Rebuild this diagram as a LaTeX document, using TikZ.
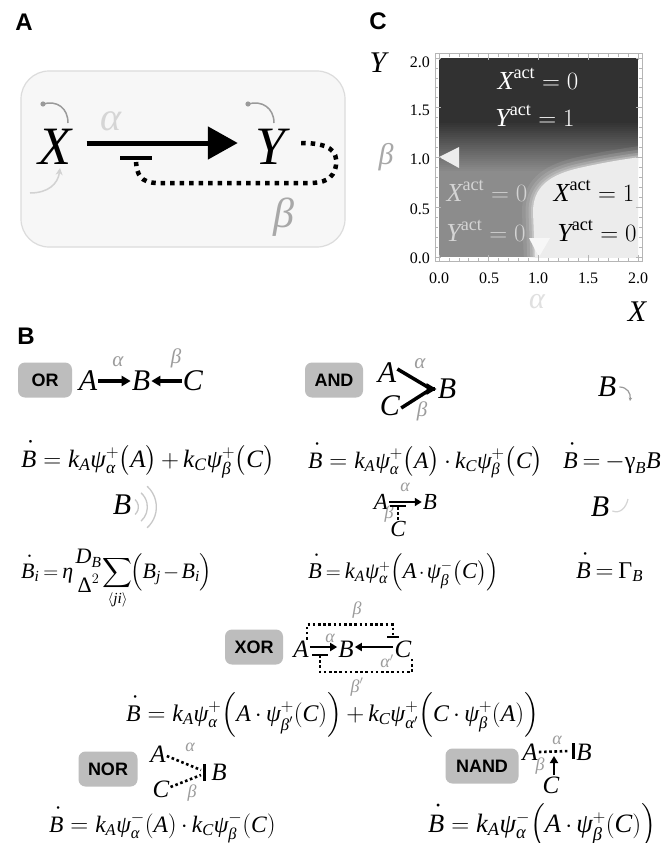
\documentclass[tikz,border=0pt]{standalone}
\usepackage{fontspec}
\setmainfont{Liberation Serif}
\newfontfamily\labfont{Liberation Sans}
\usepackage{amsmath}
\usetikzlibrary{arrows.meta,calc}
\definecolor{bgA}{HTML}{F7F7F7}
\definecolor{frameA}{HTML}{DCDCDC}
\definecolor{alA}{HTML}{D5D5D5}
\definecolor{beA}{HTML}{A8A8A8}
\definecolor{loopg}{HTML}{9A9A9A}
\definecolor{lightarr}{HTML}{D2D2D2}
\definecolor{greyl}{HTML}{9C9C9C}
\definecolor{boxg}{HTML}{BDBDBD}
\definecolor{darkg}{HTML}{313131}
\definecolor{midg}{HTML}{8C8C8C}
\definecolor{lightc}{HTML}{ECECEC}
\definecolor{wavec}{HTML}{C8C8C8}
\definecolor{smilec}{HTML}{D5D5D5}
\definecolor{tickc}{HTML}{B5B5B5}
\definecolor{lowlab}{HTML}{D4D4D4}
\newcommand\vi[1]{\text{\itshape #1}}
\newcommand\dotB{\text{\rlap{\kern0.3em\raisebox{0.86em}{\scalebox{0.45}{\textbullet}}}\itshape B}}
\newcommand\eqsp{\thickmuskip=5mu plus 2mu\medmuskip=3mu plus 1mu}
\newcommand\eqtight{\thickmuskip=3.5mu plus 1mu\medmuskip=2mu plus 1mu}
\newcommand\fs[1]{\fontsize{#1}{#1}\selectfont}
\tikzset{
  every node/.style={inner sep=1pt},
  panel/.style={font=\labfont\bfseries\fontsize{24}{24}\selectfont},
  bigv/.style={font=\itshape\fontsize{54}{54}\selectfont},
  eqn/.style={anchor=base west, font=\fs{25}\eqsp},
  gate/.style={fill=boxg, rounded corners=7pt, minimum height=35pt, font=\labfont\bfseries\fontsize{18}{18}\selectfont},
  dl/.style={font=\itshape\fontsize{30}{30}\selectfont},
  xl/.style={font=\itshape\fontsize{25}{25}\selectfont},
  sl/.style={font=\itshape\fontsize{23}{23}\selectfont},
  gl/.style={text=greyl, font=\itshape\fontsize{21}{21}\selectfont},
  gls/.style={text=greyl, font=\itshape\fontsize{18}{18}\selectfont},
  garrow/.style={line width=3.2pt, -{Triangle[length=9pt,width=10pt]}},
  sarrow/.style={line width=2.6pt, -{Triangle[length=7pt,width=8pt]}},
  sdot/.style={line width=2.6pt, dash pattern=on 2.6pt off 2.6pt},
  bigdot/.style={line width=4.5pt, dash pattern=on 4.5pt off 5pt},
  pl/.style={font=\fontsize{26}{26}\selectfont},
  tk/.style={font=\fontsize{16}{16}\selectfont},
  axl/.style={font=\itshape\fontsize{30}{30}\selectfont},
  wave/.style={wavec, line width=1.3pt},
}
\begin{document}
\begin{tikzpicture}[x=1pt,y=-1pt]
\useasboundingbox (0,0) rectangle (669,843);
\fill[white] (0,0) rectangle (669,843);

% panel labels
\node[panel] (pA) at (24,22) {A};
\node[panel] (pC) at (378,21) {C};
\node[panel] (pB) at (26,336) {B};

% ---------------- Panel A
\draw[draw=frameA, fill=bgA, line width=1.2pt, rounded corners=28pt] (21,71) rectangle (345,247);
\node[bigv] (X) at (55,147) {X};
\node[bigv] (Y) at (271,147) {Y};
\node[font=\itshape\fontsize{40}{40}\selectfont, text=alA] (aA) at (111,121) {α};
\node[font=\itshape\fontsize{42}{42}\selectfont, text=beA] (bA) at (284,217) {β};
\draw[line width=5pt, -{Triangle[length=30pt,width=32pt]}, shorten <=14pt, shorten >=17pt] ([yshift=4pt]X.east) -- ([yshift=4pt]Y.west);
\coordinate (barA) at (136,158);
\draw[line width=4pt] ([xshift=-16pt]barA) -- ([xshift=16pt]barA);
\draw[bigdot] ([xshift=14pt,yshift=4pt]Y.east) .. controls (328,143) and (338,150) .. (336,165) .. controls (334,180) and (322,183) .. (310,183) -- (158,183) .. controls (140,183) and (137,174) .. ([yshift=-4pt]barA);
% self loops
\coordinate (xl0) at (43,104); \coordinate (xl1) at (68,123);
\coordinate (yl0) at (248,104); \coordinate (yl1) at (274,123);
\fill[loopg] (xl0) circle (2.6pt);
\fill[loopg] (yl0) circle (2.6pt);
\draw[loopg, line width=1.5pt] (xl0) .. controls (57,100) and (68,108) .. (xl1);
\draw[loopg, line width=1.5pt] (yl0) .. controls (262,100) and (274,108) .. (yl1);
\coordinate (ia0) at (30,193); \coordinate (ia1) at (60,168);
\draw[lightarr, line width=1.5pt, -{Stealth[length=7pt,width=7pt]}] (ia0) .. controls (48,193) and (58,184) .. (ia1);

% ---------------- Panel C
\begin{scope}
\clip (439,58) rectangle (638,257);
\fill[midg] (439,58) rectangle (638,257);
\fill[darkg] (439,58) rectangle (638,122);
\foreach \i in {0,...,25}{\pgfmathsetmacro\p{100-4*\i}\fill[darkg!\p!midg] (439,{121+2*\i}) rectangle (638,{123.5+2*\i});}
\foreach \w/\op in {22/0.1,15/0.15,9/0.2,4/0.3}{
  \draw[lightc, line width=\w pt, opacity=\op] (535,262) -- (533,212) .. controls (533,188) and (548,176) .. (575,169) .. controls (600,163) and (625,159) .. (648,156);}
\fill[lightc] (535,262) -- (533,212) .. controls (533,188) and (548,176) .. (575,169) .. controls (600,163) and (625,159) .. (648,156) -- (648,262) -- cycle;
\fill[white!93!black] (439,157) -- (459,147) -- (459,168) -- cycle;
\fill[white!97!black] (539,257) -- (529,238) -- (550,238) -- cycle;
\end{scope}
\draw[tickc, line width=1pt] (435,54) rectangle (642,261);
\foreach \k in {0,...,20}{
  \pgfmathsetmacro\tl{ifthenelse(mod(\k,5)==0,6,3)}
  \draw[tickc, line width=0.8pt] ({439+9.95*\k},54) -- ++(0,\tl);
  \draw[tickc, line width=0.8pt] ({439+9.95*\k},261) -- ++(0,-\tl);
  \draw[tickc, line width=0.8pt] (435,{257-9.95*\k}) -- ++(\tl,0);
  \draw[tickc, line width=0.8pt] (642,{257-9.95*\k}) -- ++(-\tl,0);
}
\node[tk, anchor=east] (ty0) at (431,62) {2.0};
\node[tk, anchor=east] (ty1) at (431,110) {1.5};
\node[tk, anchor=east] (ty2) at (431,159) {1.0};
\node[tk, anchor=east] (ty3) at (431,209) {0.5};
\node[tk, anchor=east] (ty4) at (431,258) {0.0};
\node[tk] (tx0) at (439,278) {0.0};
\node[tk] (tx1) at (489,278) {0.5};
\node[tk] (tx2) at (538,278) {1.0};
\node[tk] (tx3) at (588,278) {1.5};
\node[tk] (tx4) at (638,278) {2.0};
\node[pl, text=white] (c1) at (538,79) {$\vi{X}^{\text{act}} = 0$};
\node[pl, text=white] (c2) at (535,116) {$\vi{Y}^{\text{act}} = 1$};
\node[pl, text=lowlab] (c3) at (487,191) {$\vi{X}^{\text{act}} = 0$};
\node[pl, text=lowlab] (c4) at (486,231) {$\vi{Y}^{\text{act}} = 0$};
\node[pl] (c5) at (594,191) {$\vi{X}^{\text{act}} = 1$};
\node[pl] (c6) at (597,231) {$\vi{Y}^{\text{act}} = 0$};
\node[axl] (axY) at (378,63) {Y};
\node[axl, text=beA] (axb) at (386,157) {β};
\node[axl, text=white!88!black] (axa) at (537,302) {α};
\node[axl] (axX) at (637,312) {X};

% ---------------- Panel B
% OR
\node[gate, minimum width=54pt] (orbox) at (45,380) {OR};
\node[dl] (orA) at (88,381) {A};
\node[dl] (orB) at (141,381) {B};
\node[dl] (orC) at (193,381) {C};
\node[gl] (ora) at (118,362) {α};
\node[gl] (orb) at (176,358) {β};
\draw[garrow] (orA) -- (orB);
\draw[garrow] (orC) -- (orB);
\node[eqn] (eqOR) at (20,467) {$\dotB = \vi{k}_{\vi{A}}\vi{ψ}^{+}_{\vi{α}}\bigl(\vi{A}\bigr)+\vi{k}_{\vi{C}}\vi{ψ}^{+}_{\vi{β}}\bigl(\vi{C}\bigr)$};

% AND
\node[gate, minimum width=58pt] (andbox) at (334,380) {AND};
\node[dl] (andA) at (387,373) {A};
\node[dl] (andC) at (390,406) {C};
\node[dl] (andB) at (447,389) {B};
\coordinate (andV) at (431,389);
\draw[line width=3.5pt] ([yshift=4pt]andA.east) -- (andV) -- ([yshift=-2pt]andC.east);
\draw[line width=3.5pt, -{Triangle[length=10pt,width=11pt]}, shorten <=-4pt] (andV) -- (andB.west);
\node[gl] (anda) at (420,364) {α};
\node[gl] (andb) at (422,411) {β};
\node[eqn, font=\fs{23.5}\eqsp] (eqAND) at (307,468) {$\dotB = \vi{k}_{\vi{A}}\vi{ψ}^{+}_{\vi{α}}\bigl(\vi{A}\bigr)\cdot\vi{k}_{\vi{C}}\vi{ψ}^{+}_{\vi{β}}\bigl(\vi{C}\bigr)$};

% decay
\node[dl] (dB) at (607,387) {B};
\coordinate (dBe) at (630,401);
\draw[loopg, line width=1.2pt, -{Stealth[length=3.5pt,width=3.5pt]}] ([xshift=2pt]dB.east) .. controls (627,387) and (631,393) .. (dBe);
\node[eqn, font=\fs{24}\eqtight] (eqDec) at (562,468) {$\dotB = -\text{γ}_{\vi{B}}\vi{B}$};

% diffusion
\node[dl] (wB) at (122,505) {B};
\coordinate (wc) at ([xshift=-4pt,yshift=-2pt]wB.east);
\foreach \r in {10,19,28}{\draw[wave] ([shift={(-48:\r pt)}]wc) arc[start angle=-48,end angle=48,radius=\r pt];}
\node[eqn, font=\fs{22}\eqtight] (eqDiff) at (20,578) {$\displaystyle\dotB_{\vi{i}} = \vi{η}\mkern1mu\genfrac{}{}{0pt}{0}{\vi{D}_{\vi{B}}}{\text{Δ}^2}\mkern-3mu\sum_{\langle \vi{ji}\rangle}\mkern-2mu\Bigl(\vi{B}_{\vi{j}}-\vi{B}_{\vi{i}}\Bigr)$};

% AND-NOT
\node[sl] (anA) at (381,502) {A};
\node[sl] (anB) at (430,502) {B};
\node[sl] (anC) at (398,529) {C};
\node[gls] (ana) at (405,487) {α};
\node[gls] (anb) at (389,514) {β};
\draw[sarrow] (anA) -- (anB);
\coordinate (anBar) at (398,506);
\draw[line width=2.5pt] ([xshift=-8pt]anBar) -- ([xshift=8pt]anBar);
\draw[sdot] (anC.north) -- (anBar);
\node[eqn, font=\fs{22.5}\eqtight] (eqAN) at (307,578) {$\dotB = \vi{k}_{\vi{A}}\vi{ψ}^{+}_{\vi{α}}\Bigl(\vi{A}\cdot\vi{ψ}^{-}_{\vi{β}}\bigl(\vi{C}\bigr)\Bigr)$};

% production
\node[dl] (gB) at (600,507) {B};
\coordinate (gs1) at (628,499);
\draw[smilec, line width=1.2pt] ([xshift=2pt,yshift=-4pt]gB.east) .. controls (620,514) and (626,508) .. (gs1);
\node[eqn, font=\fs{24}\eqtight] (eqGam) at (575,578) {$\dotB = \text{Γ}_{\vi{B}}$};

% XOR
\node[gate, minimum width=58pt] (xorbox) at (254,647) {XOR};
\node[xl] (xA) at (301,649) {A};
\node[xl] (xB) at (346,649) {B};
\node[xl] (xC) at (403,649) {C};
\draw[sarrow] ([yshift=2pt]xA.east) -- ([yshift=2pt]xB.west);
\draw[sarrow] ([yshift=2pt]xC.west) -- ([yshift=2pt]xB.east);
\coordinate (xbar1) at (320,655);
\coordinate (xbar2) at (393,637);
\draw[line width=2.5pt] ([xshift=-8pt]xbar1) -- ([xshift=8pt]xbar1);
\draw[line width=2.5pt] ([xshift=-6pt]xbar2) -- ([xshift=6pt]xbar2);
\draw[sdot] ([xshift=6pt]xA.north) -- ++(0,-15) -| (xbar2);
\draw[sdot] (xbar1) -- ++(0,17) -| ([xshift=9pt]xC.south);
\node[gls] (xa1) at (330,638) {α};
\node[gls] (xa2) at (387,661) {$\vi{α}'$};
\node[gls] (xb1) at (357,610) {β};
\node[gls] (xb2) at (357,687) {$\vi{β}'$};
\node[eqn, font=\fs{23.8}\eqsp] (eqXOR) at (125,721) {$\dotB = \vi{k}_{\vi{A}}\vi{ψ}^{+}_{\vi{α}}\Bigl(\vi{A}\cdot\vi{ψ}^{+}_{\vi{β}'}(\vi{C})\Bigr)+\vi{k}_{\vi{C}}\vi{ψ}^{+}_{\vi{α}'}\Bigl(\vi{C}\cdot\vi{ψ}^{+}_{\vi{β}}(\vi{A})\Bigr)$};

% NOR
\node[gate, minimum width=59pt] (norbox) at (108,769) {NOR};
\node[xl] (norA) at (158,754) {A};
\node[xl] (norC) at (161,789) {C};
\node[xl] (norB) at (219,772) {B};
\coordinate (norBar) at (204,772);
\draw[line width=3pt] ([yshift=8pt]norBar) -- ([yshift=-9pt]norBar);
\draw[sdot] ([yshift=-2pt]norA.east) -- ([xshift=-3pt,yshift=2pt]norBar);
\draw[sdot] ([yshift=2pt]norC.east) -- ([xshift=-3pt,yshift=-3pt]norBar);
\node[gls] (nora) at (190,747) {α};
\node[gls] (norb) at (192,793) {β};
\node[eqn, font=\fs{23.5}\eqsp] (eqNOR) at (48,832) {$\dotB = \vi{k}_{\vi{A}}\vi{ψ}^{-}_{\vi{α}}(\vi{A})\cdot\vi{k}_{\vi{C}}\vi{ψ}^{-}_{\vi{β}}(\vi{C})$};

% NAND
\node[gate, minimum width=73pt] (nandbox) at (482,766) {NAND};
\node[xl] (naA) at (530,752) {A};
\node[xl] (naB) at (584,752) {B};
\node[xl] (naC) at (551,785) {C};
\coordinate (naBar) at (573,751);
\draw[line width=3pt] ([yshift=8pt]naBar) -- ([yshift=-8pt]naBar);
\draw[sdot] (naA.east) -- ([xshift=-3pt]naBar);
\coordinate (naT) at (554,756);
\draw[sarrow] ([xshift=3pt]naC.north) -- (naT);
\node[gls] (naa) at (557,740) {α};
\node[gls] (nab) at (540,766) {β};
\node[eqn, font=\fs{26.5}\eqsp] (eqNAND) at (427,832) {$\dotB = \vi{k}_{\vi{A}}\vi{ψ}^{-}_{\vi{α}}\Bigl(\vi{A}\cdot\vi{ψ}^{+}_{\vi{β}}(\vi{C})\Bigr)$};
\end{tikzpicture}
\end{document}
